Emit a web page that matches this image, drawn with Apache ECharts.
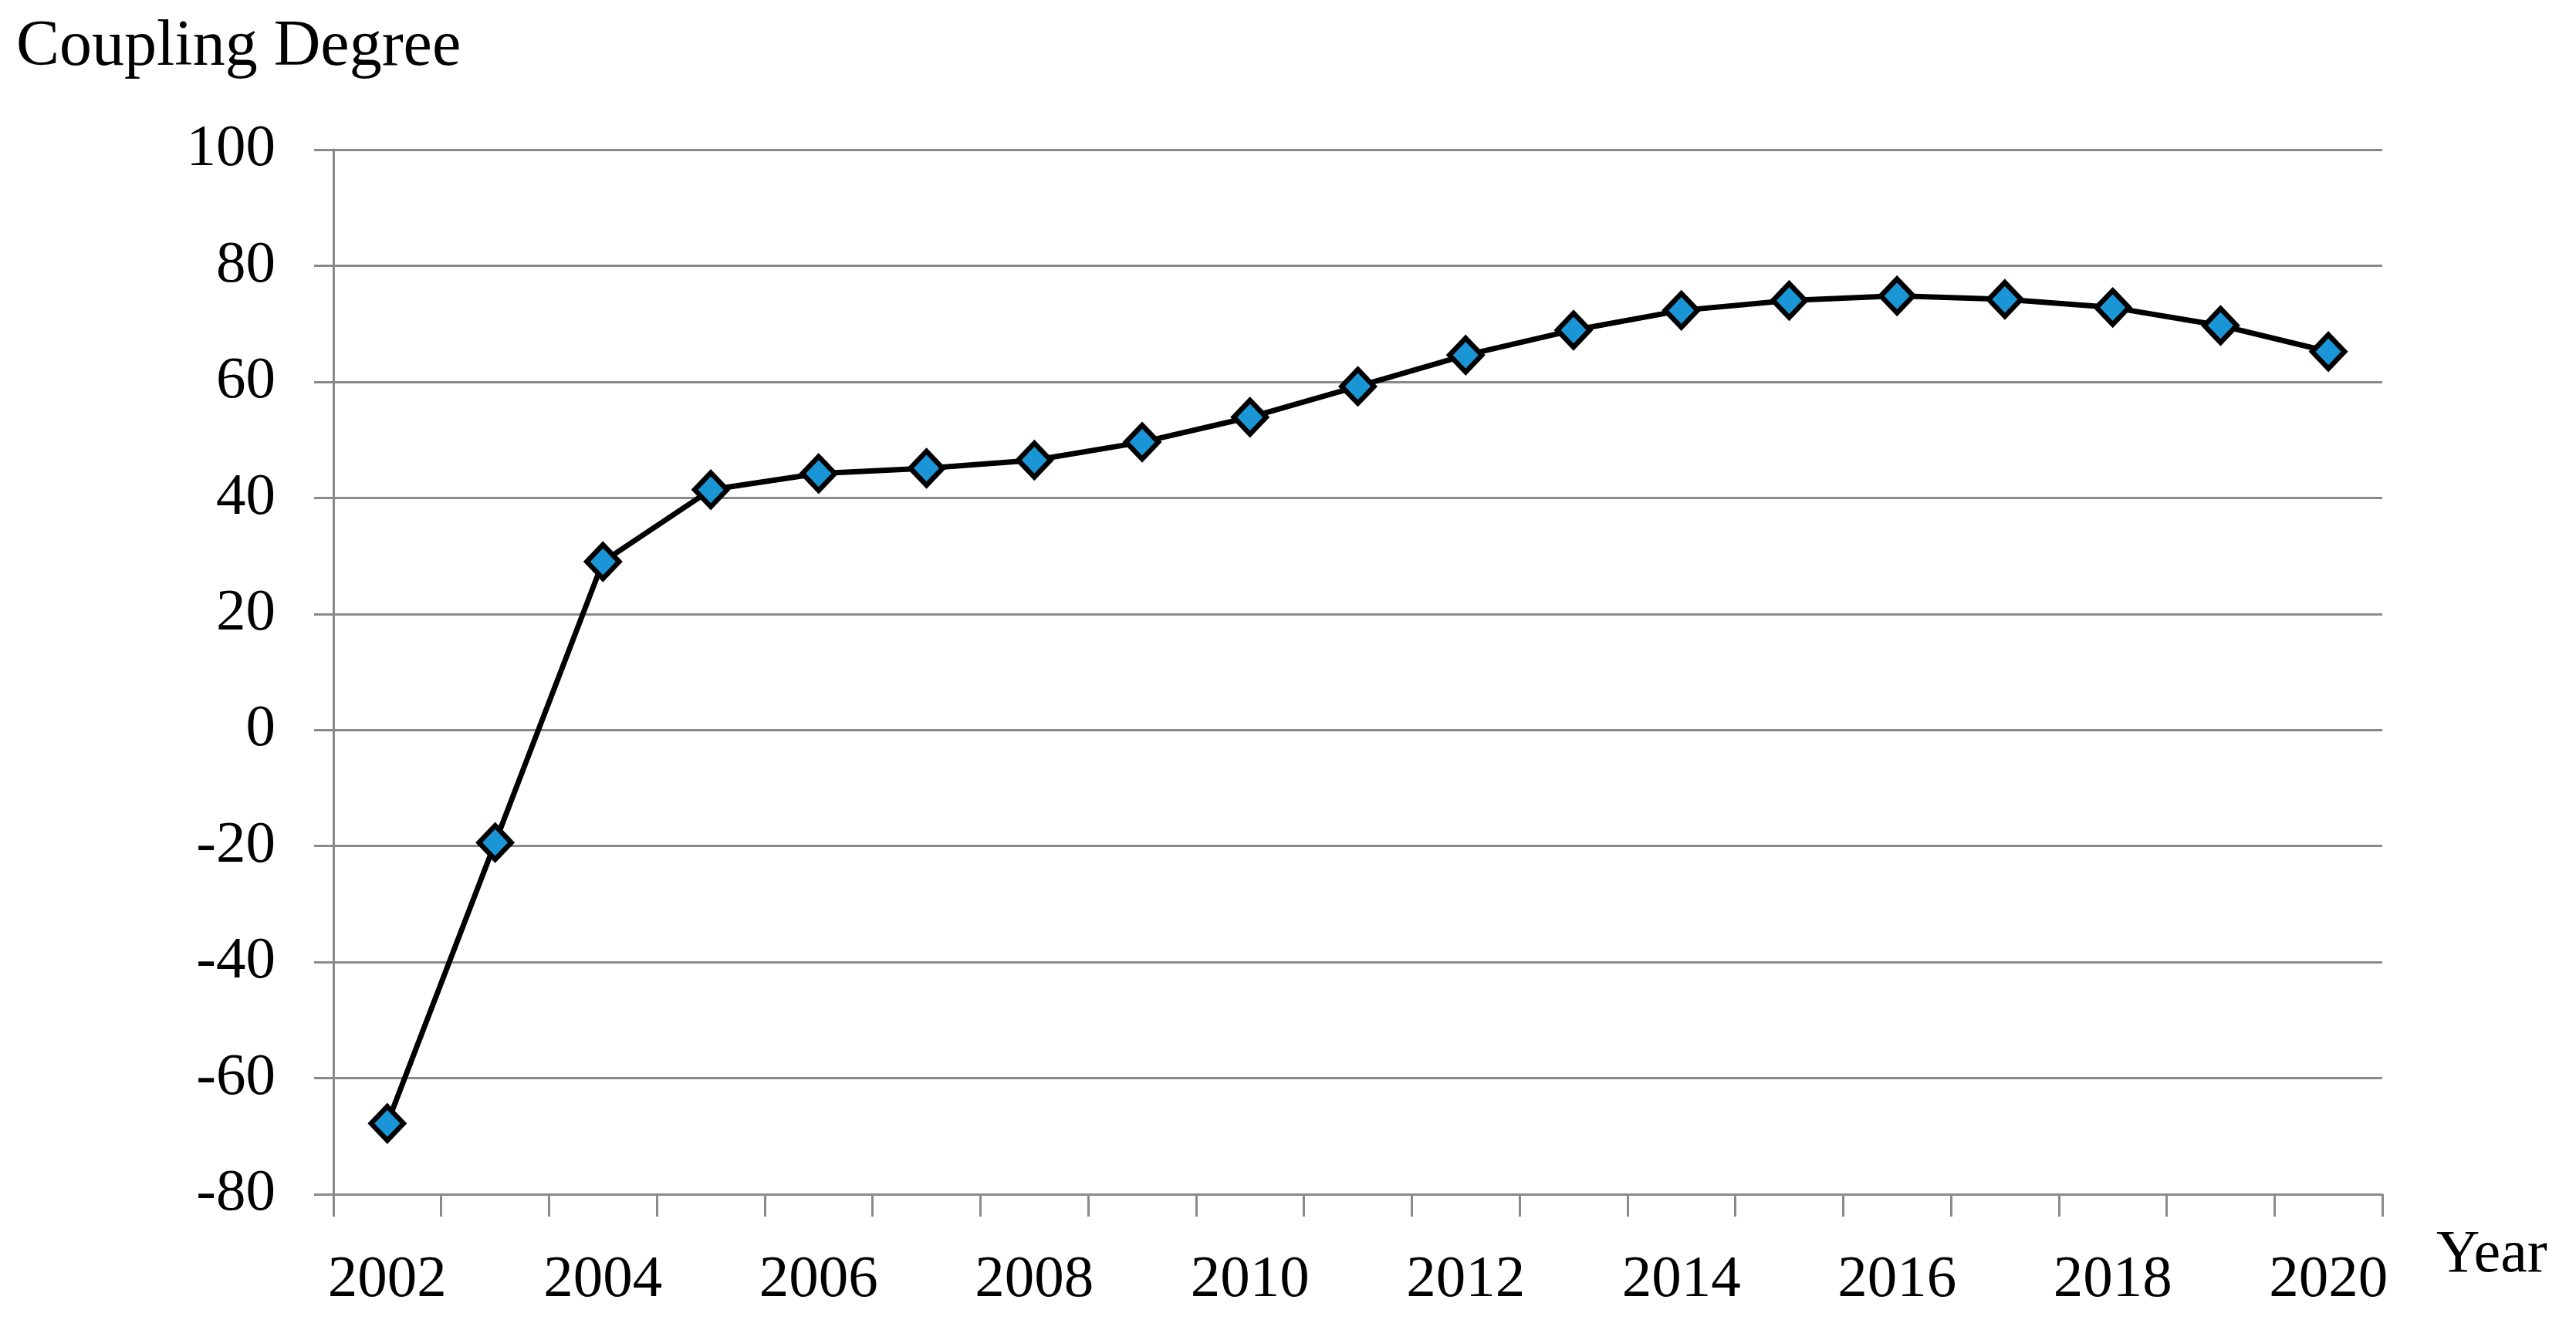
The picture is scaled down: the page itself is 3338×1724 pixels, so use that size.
<!DOCTYPE html>
<html>
<head>
<meta charset="utf-8">
<script src="https://cdn.jsdelivr.net/npm/echarts@6/dist/echarts.min.js"></script>
<style>
html,body{margin:0;padding:0;background:#fff;}
#chart{width:3338px;height:1724px;}
</style>
</head>
<body>
<div id="chart"></div>
<script>
const years = ['2002','2003','2004','2005','2006','2007','2008','2009','2010','2011','2012','2013','2014','2015','2016','2017','2018','2019','2020'];
const couplingDegree = [-67.8,-19.4,29.0,41.4,44.2,45.1,46.5,49.6,53.9,59.2,64.6,68.9,72.3,74.0,74.8,74.2,72.8,69.7,65.2];
const yMin = -80, yMax = 100, yStep = 20;
const yAxisTitle = 'Coupling Degree';
const xAxisTitle = 'Year';

const FONT = '"Liberation Serif", "Times New Roman", serif';
const GRAY = '#8a8a8a';

const chart = echarts.init(document.getElementById('chart'));
chart.setOption({
  backgroundColor: '#ffffff',
  animation: false,
  grid: { left: 432, right: 251, top: 194, bottom: 176, containLabel: false },
  graphic: [
    { type: 'text', left: 21, top: 20, style: { text: yAxisTitle, font: '84px ' + FONT, fill: '#000' } },
    { type: 'text', left: 3157, top: 1589, style: { text: xAxisTitle, font: '78px ' + FONT, fill: '#000' } }
  ],
  xAxis: {
    type: 'category',
    data: years,
    boundaryGap: true,
    axisLine: { onZero: false, lineStyle: { color: GRAY, width: 3 } },
    axisTick: { show: true, alignWithLabel: false, interval: 0, length: 29, lineStyle: { color: GRAY, width: 3 } },
    axisLabel: { interval: 1, margin: 73, color: '#000', fontFamily: FONT, fontSize: 77 },
    splitLine: { show: false }
  },
  yAxis: {
    type: 'value',
    min: yMin, max: yMax, interval: yStep,
    axisLine: { show: true, lineStyle: { color: GRAY, width: 3 } },
    axisTick: { show: true, length: 25, lineStyle: { color: GRAY, width: 3 } },
    axisLabel: { margin: 75, color: '#000', fontFamily: FONT, fontSize: 77 },
    splitLine: { show: true, lineStyle: { color: GRAY, width: 3 } }
  },
  series: [{
    type: 'line',
    data: couplingDegree,
    symbol: 'diamond',
    symbolSize: [42, 44],
    itemStyle: { color: '#1a96d6', borderColor: '#000', borderWidth: 6.5 },
    lineStyle: { color: '#000', width: 7 },
    z: 5
  }]
});
</script>
</body>
</html>
